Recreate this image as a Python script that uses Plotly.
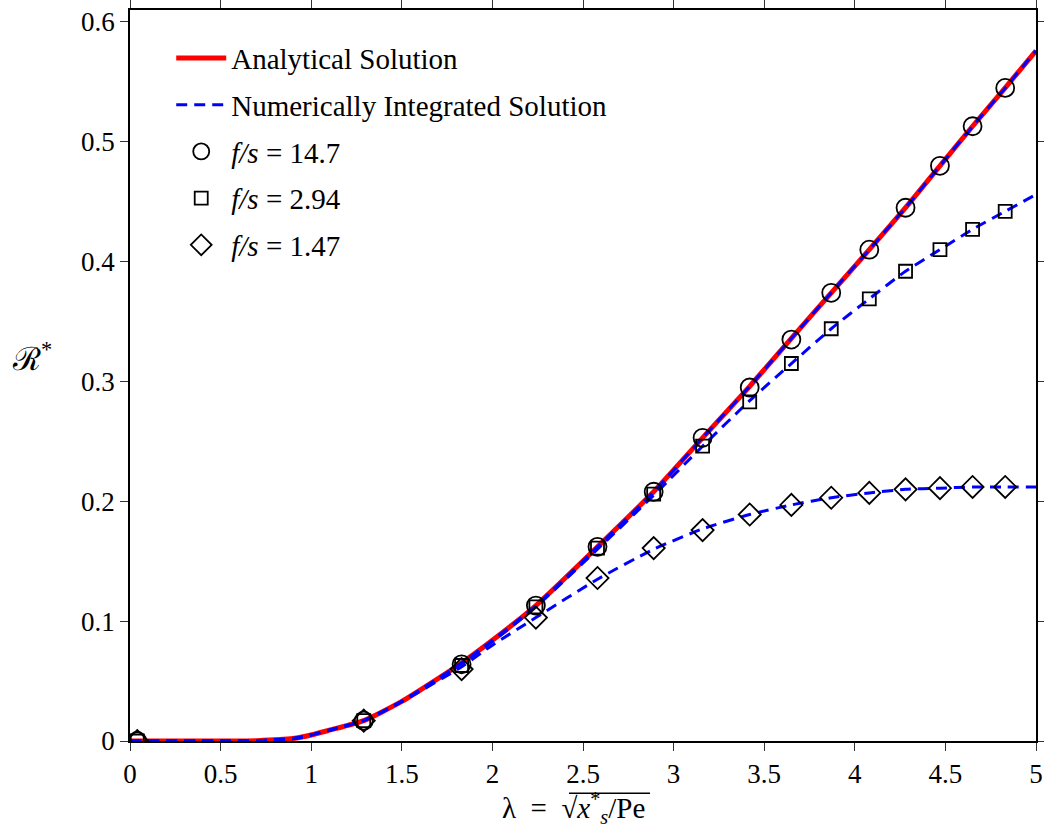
import plotly.graph_objects as go

# ---- data ----
lam_pts = [0.04, 1.29, 1.83, 2.24, 2.58, 2.89, 3.16, 3.42, 3.65, 3.87, 4.08, 4.28, 4.47, 4.65, 4.83]
R_fs147_circ = [0.0, 0.017, 0.064, 0.113, 0.162, 0.208, 0.253, 0.295, 0.335, 0.374, 0.410, 0.445, 0.480, 0.513, 0.545]
R_fs294_sq = [0.0, 0.017, 0.063, 0.112, 0.161, 0.206, 0.246, 0.283, 0.315, 0.344, 0.369, 0.392, 0.410, 0.427, 0.442]
R_fs147_dia = [0.0, 0.017, 0.060, 0.103, 0.136, 0.161, 0.176, 0.189, 0.197, 0.203, 0.207, 0.210, 0.211, 0.212, 0.212]

lam_curve = [0.0, 0.5, 0.7, 0.9, 1.0, 1.1, 1.29, 1.5, 1.82, 2.0, 2.24, 2.58, 2.89, 3.16, 3.42, 3.65, 3.87, 4.08, 4.28, 4.47, 4.65, 4.83, 5.0]
R_analytic = [0.0, 0.0, 0.0003, 0.002, 0.005, 0.009, 0.017, 0.033, 0.064, 0.084, 0.113, 0.162, 0.208, 0.253, 0.296, 0.336, 0.374, 0.410, 0.445, 0.480, 0.513, 0.545, 0.576]
R_num_147 = R_analytic
R_num_294 = [0.0, 0.0, 0.0003, 0.002, 0.005, 0.009, 0.017, 0.033, 0.064, 0.083, 0.112, 0.160, 0.205, 0.246, 0.284, 0.315, 0.344, 0.369, 0.392, 0.410, 0.427, 0.442, 0.456]
R_num_1p47 = [0.0, 0.0, 0.0003, 0.002, 0.005, 0.009, 0.017, 0.033, 0.061, 0.080, 0.103, 0.135, 0.160, 0.177, 0.189, 0.197, 0.203, 0.207, 0.210, 0.211, 0.212, 0.212, 0.212]

x_ticks = [0, 0.5, 1, 1.5, 2, 2.5, 3, 3.5, 4, 4.5, 5]
y_ticks = [0, 0.1, 0.2, 0.3, 0.4, 0.5, 0.6]

FONT = "Liberation Serif, Times New Roman, serif"
FS = 29
TICK_FS = 27

fig = go.Figure()
fig.add_trace(go.Scatter(x=lam_curve, y=R_analytic, mode="lines", name="Analytical Solution",
                         line=dict(color="#ff0000", width=5, shape="spline", smoothing=0.6),
                         legendgroup="a"))
fig.add_trace(go.Scatter(x=lam_curve, y=R_num_147, mode="lines", name="Numerically Integrated Solution",
                         line=dict(color="#0000ff", width=3, dash="11px,7px", shape="spline", smoothing=0.6),
                         legendgroup="b"))
fig.add_trace(go.Scatter(x=lam_curve, y=R_num_294, mode="lines", showlegend=False,
                         line=dict(color="#0000ff", width=3, dash="11px,7px", shape="spline", smoothing=0.6)))
fig.add_trace(go.Scatter(x=lam_curve, y=R_num_1p47, mode="lines", showlegend=False,
                         line=dict(color="#0000ff", width=3, dash="11px,7px", shape="spline", smoothing=0.6)))
fig.add_trace(go.Scatter(x=lam_pts, y=R_fs147_circ, mode="markers", name="<i>f/s</i> = 14.7",
                         marker=dict(symbol="circle-open", size=18, color="black", line=dict(width=1.8)),
                         legendgroup="c"))
fig.add_trace(go.Scatter(x=lam_pts, y=R_fs294_sq, mode="markers", name="<i>f/s</i> = 2.94",
                         marker=dict(symbol="square-open", size=13, color="black", line=dict(width=1.8)),
                         legendgroup="d"))
fig.add_trace(go.Scatter(x=lam_pts, y=R_fs147_dia, mode="markers", name="<i>f/s</i> = 1.47",
                         marker=dict(symbol="diamond-open", size=17, color="black", line=dict(width=1.8)),
                         legendgroup="e"))

axis_common = dict(showgrid=False, zeroline=False, showline=True, linecolor="black", linewidth=1.5,
                   mirror="ticks", ticks="outside", ticklen=8, tickwidth=1.2, tickcolor="#333",
                   tickfont=dict(family=FONT, size=TICK_FS, color="black"), automargin=False)

fig.update_xaxes(range=[0, 5], tickvals=x_ticks, ticktext=[str(v) for v in x_ticks], **axis_common)
fig.update_yaxes(range=[0, 0.61], tickvals=y_ticks, ticktext=[str(v) for v in y_ticks], **axis_common)

fig.add_annotation(text="ℛ<sup>*</sup>", xref="paper", yref="paper", x=-0.108, y=0.525,
                   showarrow=False, xanchor="center", yanchor="middle",
                   font=dict(family=FONT, size=32, color="black"))
fig.add_annotation(text="λ\u2002=\u2002√<i>x</i><sup>*</sup><sub><i>s</i></sub>/Pe",
                   xref="paper", yref="paper", x=0.49, y=-0.0915,
                   showarrow=False, xanchor="center", yanchor="middle",
                   font=dict(family=FONT, size=29, color="black"))
# overline of the square root (decoration)
fig.add_shape(type="line", xref="paper", yref="paper", x0=0.4845, x1=0.574, y0=-0.0715, y1=-0.0715,
              line=dict(color="black", width=1.5))

fig.update_layout(
    width=1044, height=826,
    margin=dict(l=130, r=8, t=10, b=85, autoexpand=False),
    paper_bgcolor="white", plot_bgcolor="white",
    showlegend=True,
    legend=dict(x=0.0455, y=0.969, xanchor="left", yanchor="top", bgcolor="rgba(0,0,0,0)",
                font=dict(family=FONT, size=FS, color="black"), tracegroupgap=6,
                itemwidth=50),
)

fig.write_html("out.html", config={"displayModeBar": False},
               post_script="document.body.style.margin='0';document.body.style.overflow='hidden';")
